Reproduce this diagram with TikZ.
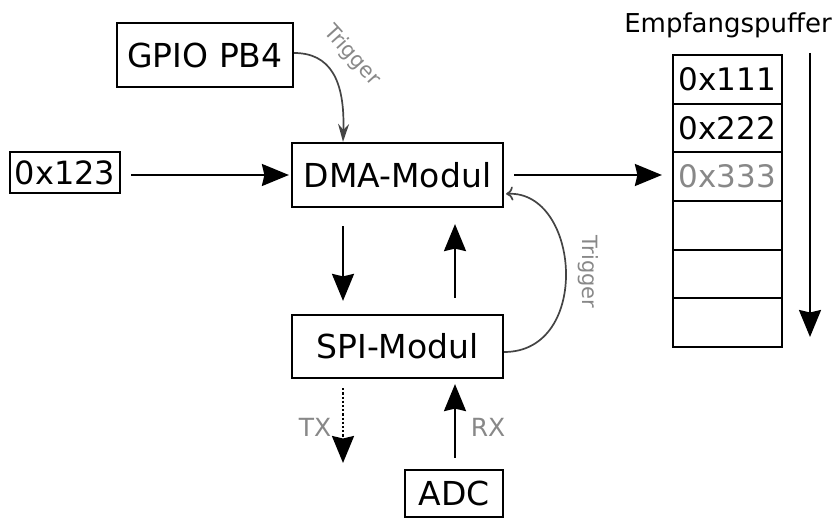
\documentclass[tikz,border=0pt]{standalone}
\usepackage{fontspec}
\setmainfont{DejaVu Sans}
\usetikzlibrary{arrows.meta}
\definecolor{trig}{HTML}{444444}
\definecolor{lbl}{HTML}{888888}
\tikzset{
  box/.style={draw, line width=2.2pt, inner sep=0pt, font=\fontsize{33}{40}\selectfont},
  cell/.style={draw, line width=2.2pt, inner sep=0pt, minimum width=109pt, minimum height=48.7pt, font=\fontsize{31}{38}\selectfont},
  bigtip/.style={-{Stealth[length=27pt,width=22pt,inset=2.5pt]}},
  big/.style={line width=2.2pt, bigtip},
  trigline/.style={draw=trig, line width=1.7pt},
  trigarrow/.style={trigline, -{Stealth[length=18pt,width=11pt,inset=6pt]}},
  trigbarb/.style={trigline, -{To[length=7pt,width=14pt]}},
  triglabel/.style={text=lbl, font=\fontsize{21}{25}\selectfont, inner sep=0pt},
  portlabel/.style={text=lbl, font=\fontsize{25}{30}\selectfont, inner sep=0pt}
}
\begin{document}
\begin{tikzpicture}[x=1pt,y=-1pt]
\useasboundingbox (0,0) rectangle (835,518);
\node[box, minimum width=176pt, minimum height=64pt] (gpio) at (205,55) {GPIO PB4};
\node[box, minimum width=110pt, minimum height=41pt, font=\fontsize{32}{38}\selectfont] (src) at (65,172.5) {0x123};
\node[box, minimum width=211pt, minimum height=64pt] (dma) at (397.5,175) {DMA-Modul};
\node[box, minimum width=211pt, minimum height=63pt] (spi) at (397.5,346.5) {SPI-Modul};
\node[box, minimum width=98pt, minimum height=47pt] (adc) at (454,493.5) {ADC};

\node[cell] (c1) at (727.5,79.3) {0x111};
\node[cell] (c2) at (727.5,128) {0x222};
\node[cell, text=lbl] (c3) at (727.5,176.7) {0x333};
\node[cell] (c4) at (727.5,225.3) {};
\node[cell] (c5) at (727.5,274) {};
\node[cell] (c6) at (727.5,322.7) {};
\node[inner sep=0pt, font=\fontsize{26}{31}\selectfont] (title) at (728,25) {Empfangspuffer};

\coordinate (lx) at (343,0);
\coordinate (rx) at (455,0);
\coordinate (my) at (0,175);
\coordinate (txend) at (343,463);
\coordinate (bufa) at (810,53);
\coordinate (bufb) at (810,337);

\draw[big, shorten <=10pt, shorten >=2pt] (src.east |- my) -- (dma.west |- my);
\draw[big, shorten <=10pt, shorten >=10pt] (dma.east |- my) -- (c3.west |- my);
\draw[big, shorten <=18pt, shorten >=13pt] (dma.south -| lx) -- (spi.north -| lx);
\draw[big, shorten <=16pt, shorten >=16pt] (spi.north -| rx) -- (dma.south -| rx);
\draw[big, shorten <=11pt, shorten >=5pt] (adc.north -| rx) -- (spi.south -| rx);
\draw[big, dotted, shorten <=9pt] (spi.south -| lx) -- (txend);
\draw[big] (bufa) -- (bufb);

\draw[trigarrow] (gpio.east |- 0,53) .. controls (330,53) and (345,80) .. (dma.north -| lx);
\draw[trigbarb, shorten >=2pt] (spi.east |- 0,352) .. controls (592,352) and (580,190) .. (dma.east |- 0,194);

\node[triglabel, rotate=-48] (t1) at (352,56) {Trigger};
\node[triglabel, rotate=-90] (t2) at (588,272) {Trigger};
\node[portlabel] (tx) at (315,427) {TX};
\node[portlabel] (rxl) at (488,427) {RX};
\end{tikzpicture}
\end{document}
